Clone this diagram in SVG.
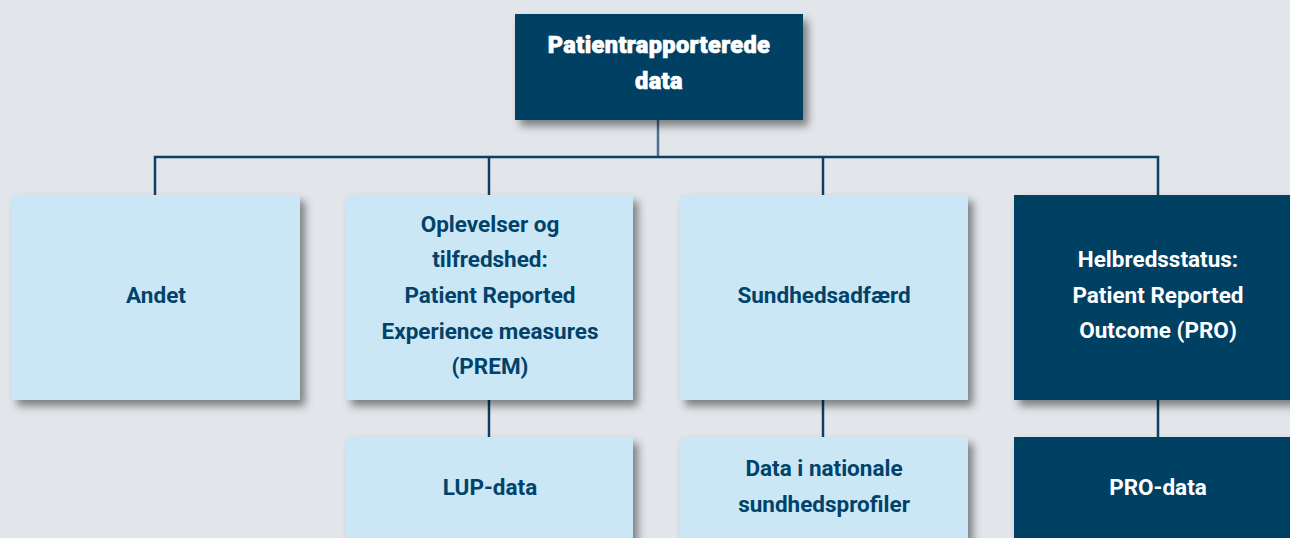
<svg xmlns="http://www.w3.org/2000/svg" width="1290" height="538" viewBox="0 0 1290 538">
  <defs>
    <filter id="shadow" x="-10%" y="-10%" width="130%" height="130%">
      <feDropShadow dx="5" dy="6" stdDeviation="4" flood-color="#000" flood-opacity="0.45"/>
    </filter>
    <style>
      .light { fill: #cbe7f5; filter: url(#shadow); }
      .dark { fill: #003f63; filter: url(#shadow); }
      .t { font-family: Roboto, "Liberation Sans", sans-serif; font-weight: 700; font-size: 22.5px; text-anchor: middle; }
      .tl { fill: #00426a; }
      .td { fill: #ffffff; }
      .title { font-family: Roboto, "Liberation Sans", sans-serif; font-weight: 900; font-size: 23.5px; fill: #ffffff; stroke: #ffffff; stroke-width: 0.7px; text-anchor: middle; letter-spacing: 0.4px; }
      .conn { stroke: #0d3f63; stroke-width: 2.5; fill: none; }
      .stem { stroke: #4d6f92; stroke-width: 2.5; fill: none; }
    </style>
  </defs>

  <rect width="1290" height="538" fill="#e2e6ea"/>

  <g id="connectors">
    <line class="stem" x1="658" y1="118" x2="658" y2="157"/>
    <polyline class="conn" points="155,195 155,157 1158,157 1158,195"/>
    <line class="conn" x1="489" y1="157" x2="489" y2="195"/>
    <line class="conn" x1="823" y1="157" x2="823" y2="195"/>
    <line class="conn" x1="489" y1="400" x2="489" y2="437"/>
    <line class="conn" x1="823" y1="400" x2="823" y2="437"/>
    <line class="conn" x1="1158" y1="400" x2="1158" y2="437"/>
  </g>

  <g id="root">
    <rect class="dark" x="515" y="14" width="288" height="106"/>
    <text class="title" x="659" y="53">Patientrapporterede</text>
    <text class="title" x="659" y="89">data</text>
  </g>

  <g id="andet">
    <rect class="light" x="12" y="195" width="288" height="205"/>
    <text class="t tl" x="156" y="303">Andet</text>
  </g>

  <g id="prem">
    <rect class="light" x="346" y="195" width="287" height="205"/>
    <text class="t tl" x="490" y="232">Oplevelser og</text>
    <text class="t tl" x="490" y="267">tilfredshed:</text>
    <text class="t tl" x="490" y="303">Patient Reported</text>
    <text class="t tl" x="490" y="339">Experience measures</text>
    <text class="t tl" x="490" y="374">(PREM)</text>
  </g>

  <g id="sundhedsadfaerd">
    <rect class="light" x="680" y="195" width="288" height="205"/>
    <text class="t tl" x="824" y="303">Sundhedsadfærd</text>
  </g>

  <g id="pro">
    <rect class="dark" x="1014" y="195" width="290" height="205"/>
    <text class="t td" x="1158" y="267">Helbredsstatus:</text>
    <text class="t td" x="1158" y="303">Patient Reported</text>
    <text class="t td" x="1158" y="338">Outcome (PRO)</text>
  </g>

  <g id="lup">
    <rect class="light" x="346" y="437" width="287" height="120"/>
    <text class="t tl" x="490" y="495">LUP-data</text>
  </g>

  <g id="profiler">
    <rect class="light" x="680" y="437" width="288" height="120"/>
    <text class="t tl" x="824" y="476">Data i nationale</text>
    <text class="t tl" x="824" y="512">sundhedsprofiler</text>
  </g>

  <g id="pro-data">
    <rect class="dark" x="1014" y="437" width="290" height="120"/>
    <text class="t td" x="1158" y="495">PRO-data</text>
  </g>
</svg>
